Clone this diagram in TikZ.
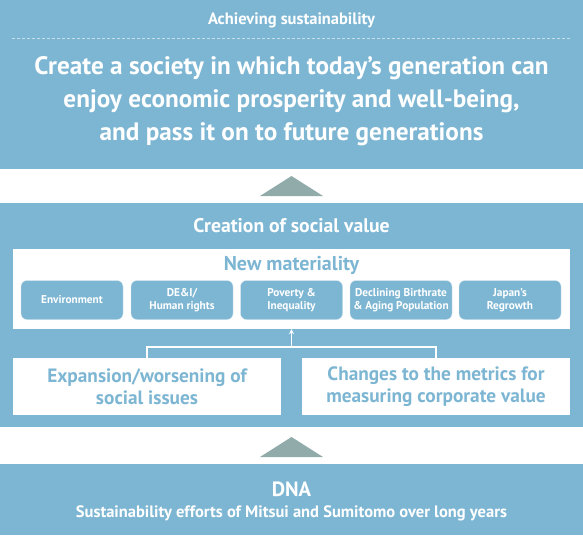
\documentclass[tikz,border=0pt]{standalone}
\usepackage{fontspec}
\setmainfont{PT Sans}
\usetikzlibrary{arrows.meta}
\definecolor{panelblue}{HTML}{7DB6D3}
\definecolor{arrowgray}{HTML}{90ABAA}
\tikzset{
  panel/.style={fill=panelblue},
  uptri/.style={fill=arrowgray},
  headtext/.style={text=white, inner sep=0},
  itembox/.style={fill=panelblue, draw=white!65!panelblue, rounded corners=6,
    minimum width=102, minimum height=39, inner sep=0, align=center, text=white,
    font=\bfseries\fontsize{11.3}{13.5}\selectfont},
  issuebox/.style={fill=white, minimum width=268, minimum height=57, inner sep=0,
    align=center, text=panelblue, font=\bfseries\fontsize{19.3}{22}\selectfont},
}
\begin{document}
\begin{tikzpicture}[x=1pt, y=-1pt]
\useasboundingbox (0,0) rectangle (583,535);
% top: goal
\fill[panel] (0,0) rectangle (583,169);
\draw[white!55!panelblue, dash pattern=on 3pt off 2pt] (12,38) -- (571,38);
\node[headtext, font=\bfseries\fontsize{16.5}{17}\selectfont] (goal) at (291.5,20) {Achieving sustainability};
\node[headtext, align=center, font=\bfseries\fontsize{25.2}{33}\selectfont] (vision) at (291.5,101)
  {Create a society in which today’s generation can\\
   enjoy economic prosperity and well-being,\\
   and pass it on to future generations};
\fill[uptri] (260,196) -- (291.5,176) -- (323,196) -- cycle;
% middle: social value
\fill[panel] (0,203) rectangle (583,427);
\node[headtext, font=\bfseries\fontsize{19.7}{20}\selectfont] (value) at (291.5,226) {Creation of social value};
\node[fill=white, minimum width=557, minimum height=80, inner sep=0] (matbox) at (291.5,289) {};
\node[text=panelblue, inner sep=0, font=\bfseries\fontsize{20}{20}\selectfont] (mattitle) at (291.5,265) {New materiality};
\foreach \name/\x/\txt in {env/72/Environment, dei/182/{DE\&I/\\Human rights},
    pov/291.5/{Poverty \&\\Inequality}, birth/401/{Declining Birthrate\\\& Aging Population},
    japan/510/{Japan’s\\Regrowth}} {
  \node[itembox] (\name) at (\x,300) {\txt};
}
\node[issuebox] (worse) at (147,386.5) {Expansion/worsening of\\social issues};
\node[issuebox] (metric) at (436,386.5) {Changes to the metrics for\\measuring corporate value};
\coordinate (join) at (291.5,347);
\draw[white, line width=1.5] (worse.north) |- (join) -| (metric.north);
\draw[white, line width=1.5, -{Stealth[length=5, width=5]}] (join) -- (matbox.south);
\fill[uptri] (260,457) -- (291.5,437) -- (323,457) -- cycle;
% bottom: DNA
\fill[panel] (0,464) rectangle (583,535);
\node[headtext, font=\bfseries\fontsize{20.6}{20}\selectfont] (dna) at (291.5,489) {DNA};
\node[headtext, font=\bfseries\fontsize{16.5}{17}\selectfont] (efforts) at (291.5,513) {Sustainability efforts of Mitsui and Sumitomo over long years};
\end{tikzpicture}
\end{document}
